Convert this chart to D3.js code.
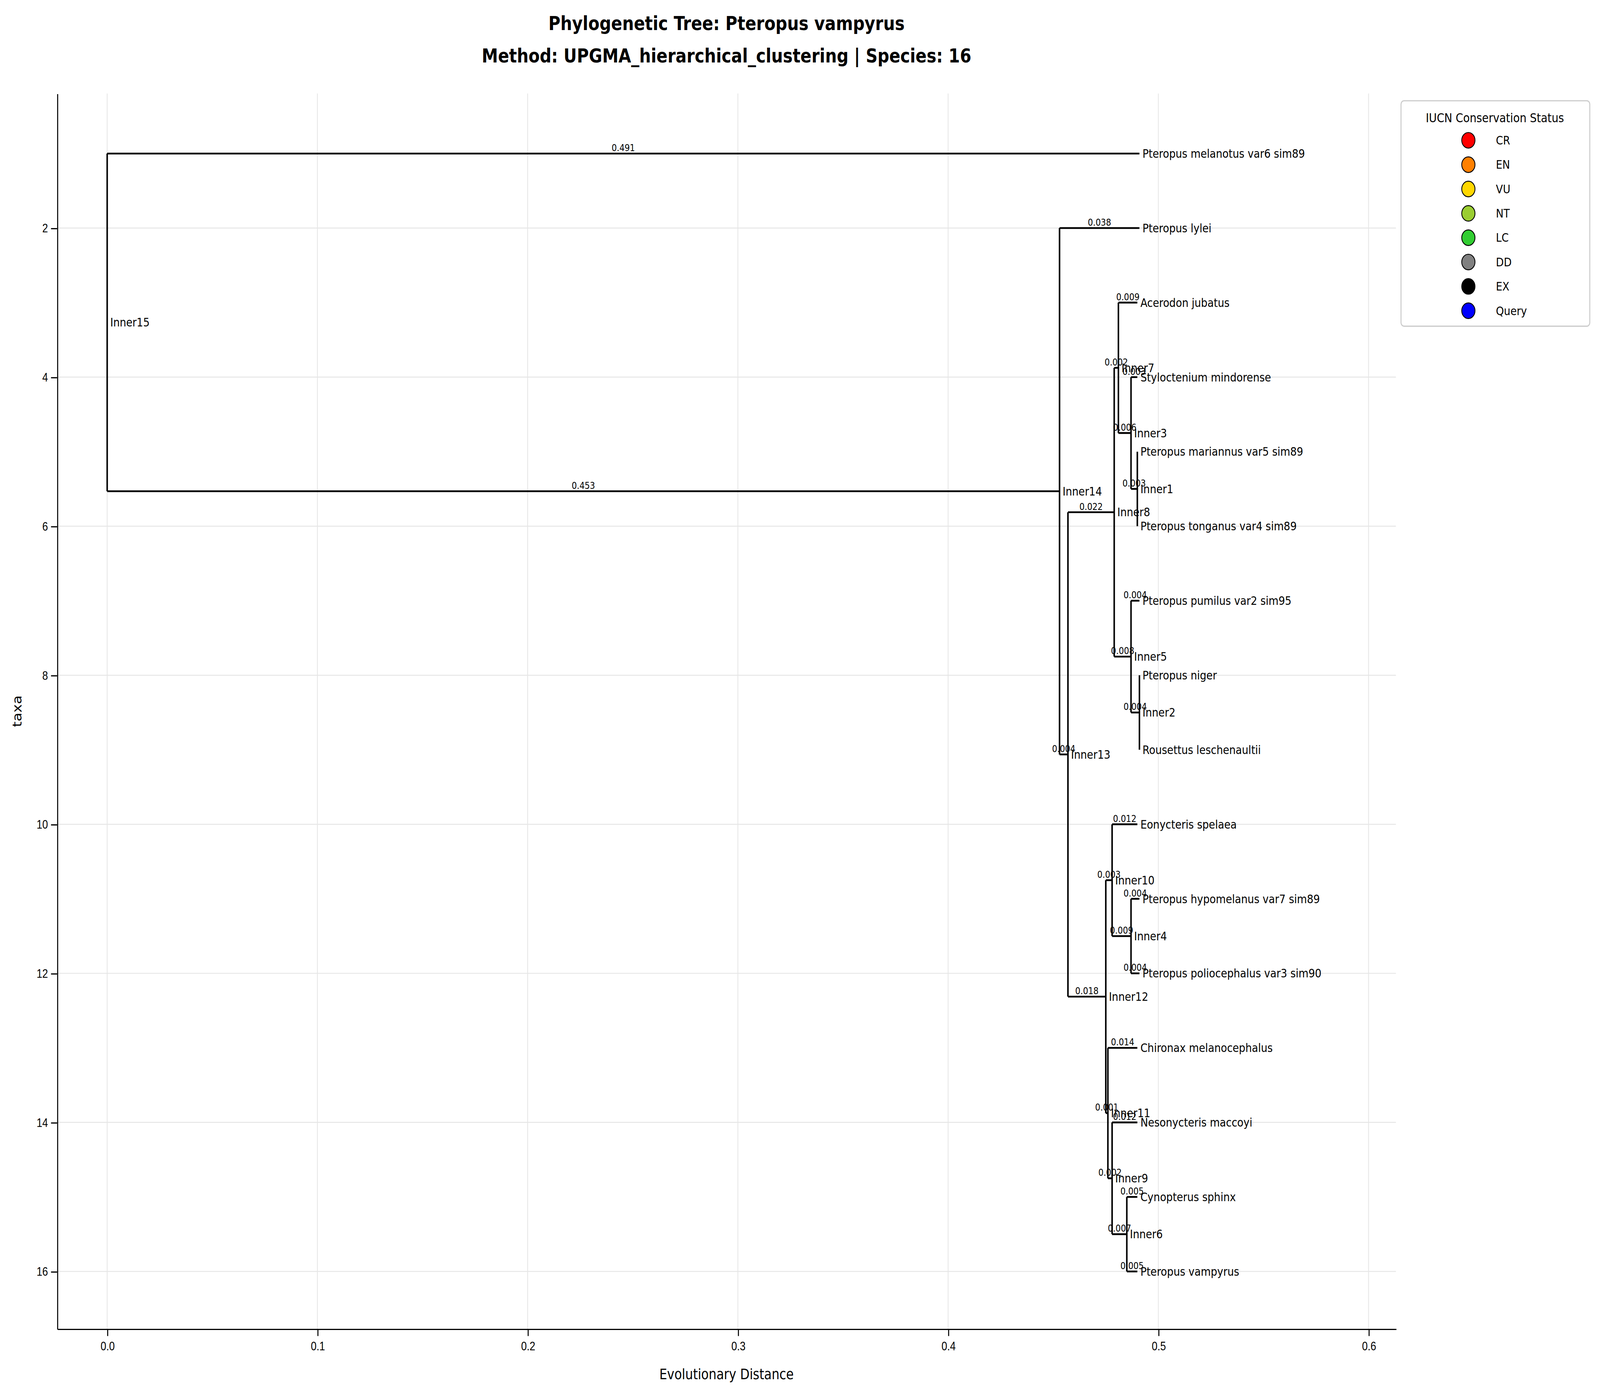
<!DOCTYPE html>
<html><head><meta charset="utf-8">
<script src="https://cdn.jsdelivr.net/npm/d3@7"></script>
<style>html,body{margin:0;padding:0;overflow:hidden;background:#fff}svg{display:block;width:100vw;height:100vh;font-family:"DejaVu Sans",sans-serif}</style>
</head><body>
<script>
// tree data: node name, parent, branch length
const nodeNames = ['Inner15','Pteropus melanotus var6 sim89','Inner14','Pteropus lylei','Inner13',
  'Inner8','Inner7','Acerodon jubatus','Inner3','Styloctenium mindorense','Inner1',
  'Pteropus mariannus var5 sim89','Pteropus tonganus var4 sim89','Inner5','Pteropus pumilus var2 sim95',
  'Inner2','Pteropus niger','Rousettus leschenaultii','Inner12','Inner10','Eonycteris spelaea','Inner4',
  'Pteropus hypomelanus var7 sim89','Pteropus poliocephalus var3 sim90','Inner11','Chironax melanocephalus',
  'Inner9','Nesonycteris maccoyi','Inner6','Cynopterus sphinx','Pteropus vampyrus'];
const nodeParents = [null,'Inner15','Inner15','Inner14','Inner14',
  'Inner13','Inner8','Inner7','Inner7','Inner3','Inner3',
  'Inner1','Inner1','Inner8','Inner5',
  'Inner5','Inner2','Inner2','Inner13','Inner12','Inner10','Inner10',
  'Inner4','Inner4','Inner12','Inner11',
  'Inner11','Inner9','Inner9','Inner6','Inner6'];
const branchLengths = [0,0.491,0.453,0.038,0.004,
  0.022,0.002,0.009,0.006,0.003,0.003,
  0,0,0.008,0.004,
  0.004,0,0,0.018,0.003,0.012,0.009,
  0.004,0.004,0.001,0.014,
  0.002,0.012,0.007,0.005,0.005];
const legendLabels = ['CR','EN','VU','NT','LC','DD','EX','Query'];
const legendColors = ['#ff0000','#ff8000','#ffd700','#9acd32','#32cd32','#808080','#000000','#0000ff'];
const yTicks = [2,4,6,8,10,12,14,16];
const xTicks = [0,0.1,0.2,0.3,0.4,0.5,0.6];

const W = 1568, H = 1164;
const svg = d3.select('body').append('svg')
  .attr('viewBox', `0 0 ${W} ${H}`).attr('preserveAspectRatio','none');

const m = {l:56, t:78, r:1368, b:1108};
const x = d3.scaleLinear().domain([-0.0238,0.613]).range([m.l,m.r]);
const y = d3.scaleLinear().domain([0.195,16.77]).range([m.t,m.b]);

// build hierarchy
const root = d3.stratify().id((d,i)=>nodeNames[i]).parentId((d,i)=>nodeParents[i])
  (nodeNames.map((n,i)=>({name:n, len:branchLengths[i]})));
let leafIdx = 0;
root.eachBefore(n => { n.dist = n.parent ? n.parent.dist + n.data.len : 0; });
root.eachBefore(n => { if (!n.children) n.yy = ++leafIdx; });
root.eachAfter(n => { if (n.children) n.yy = (n.children[0].yy + n.children[n.children.length-1].yy)/2; });

// grid
const g = svg.append('g');
g.selectAll('.gx').data(xTicks).join('line').attr('x1',d=>x(d)).attr('x2',d=>x(d))
  .attr('y1',m.t).attr('y2',m.b).attr('stroke','#e6e6e6').attr('stroke-width',0.8);
g.selectAll('.gy').data(yTicks).join('line').attr('y1',d=>y(d)).attr('y2',d=>y(d))
  .attr('x1',m.l).attr('x2',m.r).attr('stroke','#e6e6e6').attr('stroke-width',0.8);

// axes
svg.append('g').attr('transform',`translate(0,${m.b})`)
  .call(d3.axisBottom(x).tickValues(xTicks).tickFormat(d3.format('.1f')).tickSizeOuter(0))
  .call(a=>a.selectAll('text').attr('font-size',10).attr('dy','0.9em'));
svg.append('g').attr('transform',`translate(${m.l},0)`)
  .call(d3.axisLeft(y).tickValues(yTicks).tickSizeOuter(0))
  .call(a=>a.selectAll('text').attr('font-size',10));
svg.selectAll('.domain').attr('stroke','#000');

// branches
const nodes = root.descendants();
const tree = svg.append('g');
nodes.filter(n=>n.parent).forEach(n=>{
  tree.append('line').attr('x1',x(n.parent.dist)).attr('x2',x(n.dist))
    .attr('y1',y(n.yy)).attr('y2',y(n.yy)).attr('stroke','#000').attr('stroke-width',1.5);
  if (n.data.len > 0)
    tree.append('text').attr('x',x((n.parent.dist+n.dist)/2)).attr('y',y(n.yy)-2)
      .attr('text-anchor','middle').attr('font-size',8).text(n.data.len.toFixed(3));
});
nodes.filter(n=>n.children).forEach(n=>{
  const c = n.children;
  tree.append('line').attr('x1',x(n.dist)).attr('x2',x(n.dist))
    .attr('y1',y(c[0].yy)).attr('y2',y(c[c.length-1].yy)).attr('stroke','#000').attr('stroke-width',1.5);
});
nodes.forEach(n=>{
  tree.append('text').attr('x',x(n.dist)+3).attr('y',y(n.yy)).attr('dy','0.35em')
    .attr('font-size',10).text(n.id);
});

// labels
svg.append('text').attr('x',(m.l+m.r)/2).attr('y',1150).attr('text-anchor','middle')
  .attr('font-size',12).text('Evolutionary Distance');
svg.append('text').attr('transform',`translate(21,${(m.t+m.b)/2}) rotate(-90)`)
  .attr('text-anchor','middle').attr('font-size',12).text('taxa');
svg.append('text').attr('x',(m.l+m.r)/2).attr('y',25).attr('text-anchor','middle')
  .attr('font-size',16).attr('font-weight','bold').text('Phylogenetic Tree: Pteropus vampyrus');
svg.append('text').attr('x',(m.l+m.r)/2).attr('y',52).attr('text-anchor','middle')
  .attr('font-size',16).attr('font-weight','bold').text('Method: UPGMA_hierarchical_clustering | Species: 16');

// legend
const lg = svg.append('g').attr('transform','translate(1373,84)');
lg.append('rect').attr('width',185).attr('height',188).attr('rx',3)
  .attr('fill','#fff').attr('stroke','#ccc');
lg.append('text').attr('x',92).attr('y',18).attr('text-anchor','middle').attr('font-size',10.5)
  .text('IUCN Conservation Status');
legendLabels.forEach((l,i)=>{
  lg.append('circle').attr('cx',66).attr('cy',33+i*20.3).attr('r',6.5)
    .attr('fill',legendColors[i]).attr('stroke','#000').attr('stroke-width',0.8);
  lg.append('text').attr('x',93).attr('y',33+i*20.3).attr('dy','0.35em').attr('font-size',10).text(l);
});
</script>
</body></html>
